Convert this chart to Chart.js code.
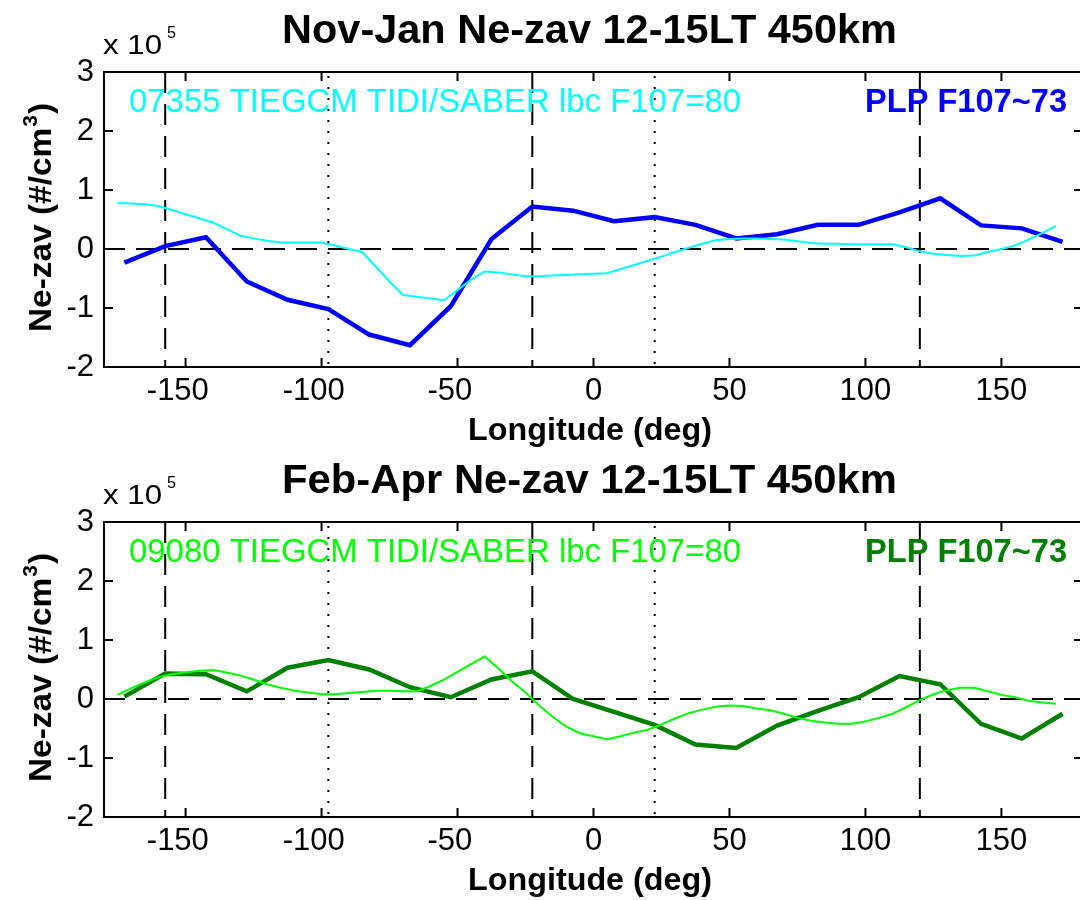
<!DOCTYPE html>
<html><head><meta charset="utf-8">
<script src="https://cdn.jsdelivr.net/npm/chart.js@4.4.0/dist/chart.umd.min.js"></script>
<style>
html,body{margin:0;padding:0;background:#fff;overflow:hidden;width:1080px;height:900px;}
.wrap{position:absolute;left:0;width:1090px;height:450px;}
</style></head><body>
<div class="wrap" style="top:0"><canvas id="c1" width="1090" height="450"></canvas></div>
<div class="wrap" style="top:450px"><canvas id="c2" width="1090" height="450"></canvas></div>
<script>
// ---- data (values in units of 1e5 #/cm^3) ----
const plpLon = [-172.5,-157.5,-142.5,-127.5,-112.5,-97.5,-82.5,-67.5,-52.5,-37.5,-22.5,-7.5,7.5,22.5,37.5,52.5,67.5,82.5,97.5,112.5,127.5,142.5,157.5,172.5];
const modelLon = [-175,-170,-165,-160,-155,-150,-145,-140,-135,-130,-125,-120,-115,-110,-105,-100,
  -95,-90,-85,-80,-75,-70,-65,-60,-55,-50,-45,-40,-35,-30,-25,-20,-15,-10,-5,0,
  5,10,15,20,25,30,35,40,45,50,55,60,65,70,75,80,85,90,95,100,
  105,110,115,120,125,130,135,140,145,150,155,160,165,170];

const novJanPLP = [-0.23,0.05,0.20,-0.55,-0.86,-1.02,-1.45,-1.63,-0.97,0.17,0.72,0.65,0.47,0.54,0.41,0.18,0.25,0.41,0.41,0.62,0.86,0.40,0.35,0.12];
const novJanModel = [0.78,0.77,0.76,0.73,0.66,0.59,0.52,0.45,0.34,0.23,0.18,0.14,0.11,0.11,0.11,0.11,
  0.06,0.00,-0.05,-0.30,-0.55,-0.78,-0.81,-0.84,-0.87,-0.70,-0.52,-0.38,-0.40,-0.43,-0.46,-0.46,-0.45,-0.44,-0.43,-0.42,
  -0.41,-0.34,-0.27,-0.20,-0.13,-0.05,0.02,0.09,0.15,0.17,0.18,0.18,0.17,0.16,0.13,0.10,0.09,0.09,0.08,0.08,
  0.08,0.08,0.03,-0.04,-0.08,-0.10,-0.12,-0.11,-0.05,0.00,0.06,0.16,0.27,0.39];

const febAprPLP = [0.04,0.43,0.42,0.13,0.53,0.66,0.50,0.20,0.03,0.33,0.47,0.00,-0.22,-0.44,-0.77,-0.83,-0.45,-0.20,0.03,0.39,0.25,-0.42,-0.67,-0.25];
const febAprModel = [0.07,0.18,0.28,0.37,0.42,0.45,0.48,0.49,0.45,0.40,0.33,0.25,0.19,0.14,0.11,0.08,
  0.08,0.10,0.12,0.14,0.14,0.13,0.13,0.22,0.33,0.46,0.59,0.72,0.52,0.30,0.11,-0.11,-0.30,-0.47,-0.58,-0.63,
  -0.68,-0.63,-0.57,-0.52,-0.43,-0.33,-0.24,-0.18,-0.13,-0.11,-0.12,-0.16,-0.19,-0.25,-0.32,-0.37,-0.40,-0.42,-0.42,-0.38,
  -0.32,-0.25,-0.14,-0.02,0.08,0.15,0.19,0.19,0.13,0.07,0.03,-0.03,-0.06,-0.08];

const xTickValues = [-150,-100,-50,0,50,100,150];
const yTickValues = [-2,-1,0,1,2,3];
const dashedLon = [-157.5,-22.5,120];
const dottedLon = [-97.5,22.5];

const panels = [
  {id:'c1', title:'Nov-Jan Ne-zav 12-15LT 450km', modelText:'07355 TIEGCM TIDI/SABER lbc F107=80', plpText:'PLP F107~73',
   modelColor:'#00ffff', plpColor:'#0000ff', model:novJanModel, plp:novJanPLP},
  {id:'c2', title:'Feb-Apr Ne-zav 12-15LT 450km', modelText:'09080 TIEGCM TIDI/SABER lbc F107=80', plpText:'PLP F107~73',
   modelColor:'#00ff00', plpColor:'#008000', model:febAprModel, plp:febAprPLP}
];

const FAM = '"Liberation Sans", Arial, Helvetica, sans-serif';
const NARROW = '"Liberation Sans Narrow", "Liberation Sans", Arial, sans-serif';

function fitText(ctx, text, x, y, width, font, color){
  ctx.save();
  ctx.font = font; ctx.fillStyle = color; ctx.textBaseline = 'alphabetic'; ctx.textAlign = 'left';
  const w = ctx.measureText(text).width;
  ctx.translate(x, y); ctx.scale(width / w, 1);
  ctx.fillText(text, 0, 0);
  ctx.restore();
}

const decor = {
  id:'decor',
  beforeDatasetsDraw(chart){
    const {ctx, chartArea:a, scales:{x, y}} = chart;
    ctx.save();
    ctx.beginPath(); ctx.rect(a.left, a.top, a.right - a.left, a.bottom - a.top); ctx.clip();
    ctx.strokeStyle = '#000'; ctx.lineWidth = 2;
    ctx.setLineDash([21, 11]);
    const y0 = y.getPixelForValue(0);
    ctx.beginPath(); ctx.moveTo(a.left, y0); ctx.lineTo(a.right, y0); ctx.stroke();
    dashedLon.forEach(v => { const px = x.getPixelForValue(v); ctx.beginPath(); ctx.moveTo(px, a.top); ctx.lineTo(px, a.bottom); ctx.stroke(); });
    ctx.setLineDash([2, 9]);
    dottedLon.forEach(v => { const px = x.getPixelForValue(v); ctx.beginPath(); ctx.moveTo(px, a.top + 4); ctx.lineTo(px, a.bottom); ctx.stroke(); });
    ctx.restore();
  },
  afterDraw(chart){
    const {ctx, chartArea:a, scales:{x, y}} = chart;
    const p = chart.options.plugins.decor;
    ctx.save();
    ctx.strokeStyle = '#000'; ctx.lineWidth = 2; ctx.setLineDash([]);
    ctx.strokeRect(a.left, a.top, a.right - a.left, a.bottom - a.top);
    const tl = 9;
    ctx.beginPath();
    xTickValues.forEach(v => { const px = x.getPixelForValue(v);
      ctx.moveTo(px, a.bottom); ctx.lineTo(px, a.bottom - tl);
      ctx.moveTo(px, a.top); ctx.lineTo(px, a.top + tl); });
    yTickValues.forEach(v => { const py = y.getPixelForValue(v);
      ctx.moveTo(a.left, py); ctx.lineTo(a.left + tl, py);
      ctx.moveTo(a.right, py); ctx.lineTo(a.right - tl, py); });
    ctx.stroke();
    ctx.restore();

    // title
    fitText(ctx, p.title, 282, 43, 615, 'bold 41px ' + FAM, '#000');
    // annotations
    fitText(ctx, p.modelText, 129, 112, 612, '33px ' + FAM, p.modelColor);
    fitText(ctx, p.plpText, 865, 112, 202, 'bold 33px ' + FAM, p.plpColor);
    // exponent
    fitText(ctx, 'x 10', 103, 54, 59, '27px ' + FAM, '#000');
    fitText(ctx, '5', 167, 38, 9, '17px ' + FAM, '#000');
    // x axis title
    fitText(ctx, 'Longitude (deg)', 468, 440, 244, 'bold 32px ' + FAM, '#000');
    // y axis title (rotated)
    ctx.save();
    ctx.translate(51, 332); ctx.rotate(-Math.PI / 2);
    ctx.fillStyle = '#000'; ctx.textBaseline = 'alphabetic'; ctx.textAlign = 'left';
    const f1 = 'bold 32px ' + FAM, f2 = 'bold 20px ' + FAM;
    ctx.font = f1; const w1 = ctx.measureText('Ne-zav (#/cm').width; const w3 = ctx.measureText(')').width;
    ctx.font = f2; const w2 = ctx.measureText('3').width;
    const s = 229 / (w1 + w2 + w3 + 2);
    ctx.scale(s, 1);
    ctx.font = f1; ctx.fillText('Ne-zav (#/cm', 0, 0);
    ctx.font = f2; ctx.fillText('3', w1 + 1, -14);
    ctx.font = f1; ctx.fillText(')', w1 + w2 + 2, 0);
    ctx.restore();
  }
};

panels.forEach(P => {
  new Chart(document.getElementById(P.id), {
    type:'line',
    data:{ datasets:[
      {label:'TIEGCM', data: modelLon.map((v, i) => ({x:v, y:P.model[i]})), borderColor:P.modelColor, backgroundColor:P.modelColor,
       borderWidth:2, pointRadius:0, tension:0, fill:false, order:1},
      {label:'PLP', data: plpLon.map((v, i) => ({x:v, y:P.plp[i]})), borderColor:P.plpColor, backgroundColor:P.plpColor,
       borderWidth:4.5, pointRadius:0, tension:0, fill:false, order:2}
    ]},
    options:{
      responsive:false, maintainAspectRatio:false, animation:false, devicePixelRatio:1,
      layout:{padding:{top:72, right:7, bottom:0, left:0}},
      plugins:{legend:{display:false}, tooltip:{enabled:false}, title:{display:false},
        decor:{title:P.title, modelText:P.modelText, plpText:P.plpText, modelColor:P.modelColor, plpColor:P.plpColor}},
      scales:{
        x:{type:'linear', min:-180, max:180,
           afterBuildTicks: s => { s.ticks = xTickValues.map(v => ({value:v})); },
           afterFit: s => { s.height = 83; },
           grid:{display:false, drawTicks:false}, border:{display:false},
           ticks:{color:'#000', padding:6, maxRotation:0, autoSkip:false, font:{family:NARROW, size:31},
             callback: v => v < 0 ? v + '\u2002' : '' + v}},
        y:{type:'linear', min:-2, max:3,
           afterBuildTicks: s => { s.ticks = yTickValues.map(v => ({value:v})); },
           afterFit: s => { s.width = 104; },
           grid:{display:false, drawTicks:false}, border:{display:false},
           ticks:{color:'#000', padding:10, autoSkip:false, font:{family:NARROW, size:31}}}
      }
    },
    plugins:[decor]
  });
});
</script>
</body></html>
